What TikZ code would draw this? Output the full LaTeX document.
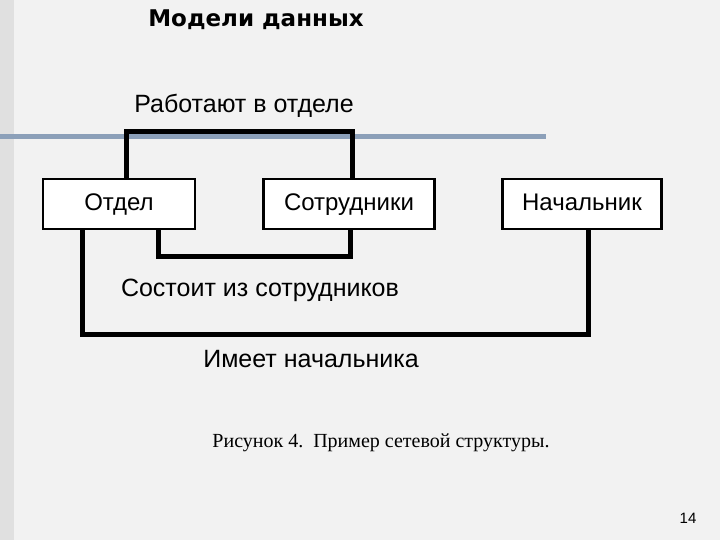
\documentclass[tikz,border=0pt]{standalone}
\usepackage{fontspec}
\setmainfont{Liberation Serif}
\setsansfont{Liberation Sans}
\newfontfamily\titlefont{DejaVu Sans}
\definecolor{bandblue}{RGB}{140,160,185}
\begin{document}
\begin{tikzpicture}[x=1pt,y=-1pt,
  ent/.style={draw=black,line width=2.5pt,fill=white,minimum height=50pt,inner sep=0pt,text height=17pt,text depth=4pt,font=\sffamily\fontsize{24}{26}\selectfont},
  link/.style={line width=5pt,line cap=rect},
  lbl/.style={font=\sffamily\fontsize{25}{27}\selectfont,inner sep=0pt}]
\fill[white!95!black] (0,0) rectangle (720,540);
\fill[white!88!black] (0,0) rectangle (14,540);
\useasboundingbox (0,0) rectangle (720,540);
\node[font=\titlefont\bfseries\fontsize{23}{25}\selectfont] (title) at (256,20) {Модели данных};
\fill[bandblue] (0,134) rectangle (546,139);
\node[ent,minimum width=152pt] (otd) at (119,204) {Отдел};
\node[ent,minimum width=171pt] (sot) at (349,204) {Сотрудники};
\node[ent,minimum width=159pt] (nach) at (582,204) {Начальник};
\coordinate (a1) at (126,132); \coordinate (a2) at (352,132);
\draw[link] (otd.north -| a1) -- (a1) -- (a2) -- (sot.north -| a2);
\coordinate (b1) at (158,256); \coordinate (b2) at (350,256);
\draw[link] (otd.south -| b1) -- (b1) -- (b2) -- (sot.south -| b2);
\coordinate (c1) at (82,334); \coordinate (c2) at (588,334);
\draw[link] (otd.south -| c1) -- (c1) -- (c2) -- (nach.south -| c2);
\node[lbl] (l1) at (244,106) {Работают в отделе};
\node[lbl] (l2) at (260,290) {Состоит из сотрудников};
\node[lbl] (l3) at (311,359) {Имеет начальника};
\node[font=\fontsize{20}{22}\selectfont] (cap) at (381,443) {Рисунок 4.\ \ Пример сетевой структуры.};
\node[font=\sffamily\fontsize{15}{17}\selectfont] (pg) at (688,518) {14};
\end{tikzpicture}
\end{document}
